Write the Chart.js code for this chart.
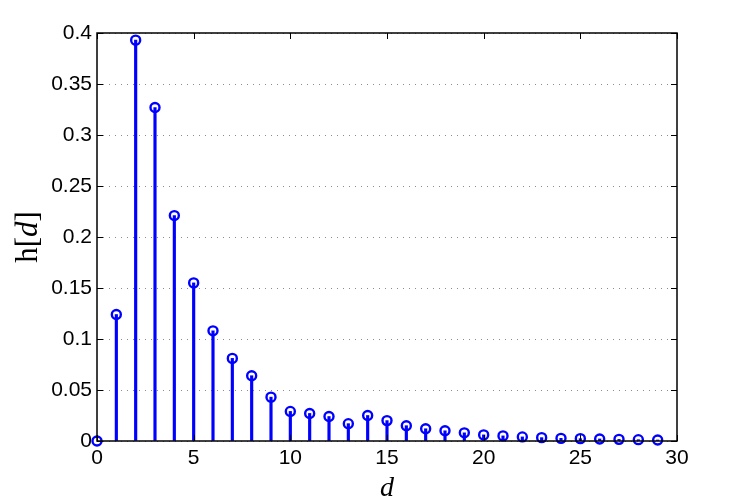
<!DOCTYPE html>
<html>
<head>
<meta charset="utf-8">
<script src="https://cdn.jsdelivr.net/npm/chart.js@4"></script>
<style>
  html, body { margin: 0; padding: 0; background: #fff; }
  #wrap { width: 747px; height: 501px; }
</style>
</head>
<body>
<div id="wrap"><canvas id="stemChart"></canvas></div>
<script>
const lags = [0, 1, 2, 3, 4, 5, 6, 7, 8, 9, 10, 11, 12, 13, 14, 15, 16, 17, 18, 19,
  20, 21, 22, 23, 24, 25, 26, 27, 28, 29];
const hValues = [0, 0.124, 0.393, 0.327, 0.221, 0.155, 0.108, 0.081, 0.064, 0.043,
  0.029, 0.027, 0.024, 0.017, 0.025, 0.020, 0.015, 0.012, 0.010, 0.008,
  0.006, 0.005, 0.004, 0.0033, 0.0026, 0.0023, 0.002, 0.0016, 0.0013, 0.001];
const xTicks = [0, 5, 10, 15, 20, 25, 30];
const yTicks = [0, 0.05, 0.1, 0.15, 0.2, 0.25, 0.3, 0.35, 0.4];

const points = lags.map((d, i) => ({ x: d, y: hValues[i] }));

// box, inward tick marks and the two axis labels (mixed upright/italic)
const frame = {
  id: 'frame',
  afterDraw(chart) {
    const ctx = chart.ctx;
    const a = chart.chartArea;
    const xs = chart.scales.x, ys = chart.scales.y;
    ctx.save();
    ctx.strokeStyle = '#000';
    ctx.lineWidth = 1;
    ctx.beginPath();
    yTicks.forEach(v => {
      const y = Math.round(ys.getPixelForValue(v)) + 0.5;
      ctx.moveTo(a.left, y); ctx.lineTo(a.left + 6, y);
      ctx.moveTo(a.right, y); ctx.lineTo(a.right - 6, y);
    });
    xTicks.forEach(v => {
      const x = Math.round(xs.getPixelForValue(v)) + 0.5;
      ctx.moveTo(x, a.bottom); ctx.lineTo(x, a.bottom - 6);
      ctx.moveTo(x, a.top); ctx.lineTo(x, a.top + 6);
    });
    ctx.stroke();
    ctx.lineWidth = 1.5;
    ctx.strokeRect(a.left, a.top, a.right - a.left, a.bottom - a.top);

    // x label: italic d
    ctx.fillStyle = '#000';
    ctx.textAlign = 'center';
    ctx.textBaseline = 'alphabetic';
    ctx.font = 'italic 28px "Liberation Serif"';
    ctx.fillText('d', (a.left + a.right) / 2, 496);

    // y label: h[d], rotated
    ctx.translate(37, (a.top + a.bottom) / 2);
    ctx.rotate(-Math.PI / 2);
    const parts = [['h[', '31px "Liberation Serif"'], ['d', 'italic 31px "Liberation Serif"'], [']', '31px "Liberation Serif"']];
    let total = 0;
    parts.forEach(p => { ctx.font = p[1]; total += ctx.measureText(p[0]).width; });
    let cx = -total / 2;
    ctx.textAlign = 'left';
    parts.forEach(p => {
      ctx.font = p[1];
      ctx.fillText(p[0], cx, 0);
      cx += ctx.measureText(p[0]).width;
    });
    ctx.restore();
  }
};

new Chart(document.getElementById('stemChart'), {
  data: {
    datasets: [{
      type: 'bar',
      data: points,
      backgroundColor: '#0000ff',
      barThickness: 2.5,
      order: 2
    }, {
      type: 'line',
      data: points,
      showLine: false,
      clip: false,
      pointStyle: 'circle',
      pointRadius: 4.5,
      pointBorderWidth: 2.4,
      pointBorderColor: '#0000ff',
      pointBackgroundColor: 'rgba(255,255,255,0)',
      order: 1
    }]
  },
  options: {
    responsive: true,
    maintainAspectRatio: false,
    animation: false,
    layout: { padding: { top: 33, right: 70, left: 0, bottom: 0 } },
    plugins: {
      legend: { display: false },
      tooltip: { enabled: false }
    },
    scales: {
      x: {
        type: 'linear',
        min: 0,
        max: 30,
        offset: false,
        afterBuildTicks: s => { s.ticks = xTicks.map(v => ({ value: v })); },
        afterFit: s => { s.height = 60; },
        grid: { display: false, drawTicks: false },
        border: { display: false },
        ticks: {
          color: '#000',
          padding: 5,
          maxRotation: 0,
          font: { family: '"Liberation Sans"', size: 21 }
        }
      },
      y: {
        type: 'linear',
        min: 0,
        max: 0.4,
        afterBuildTicks: s => { s.ticks = yTicks.map(v => ({ value: v })); },
        afterFit: s => { s.width = 97; },
        grid: {
          drawTicks: false,
          color: '#8c8c8c',
          lineWidth: 1
        },
        border: { display: false, dash: [1, 5] },
        ticks: {
          color: '#000',
          padding: 5,
          font: { family: '"Liberation Sans"', size: 21 },
          callback: v => String(+v.toFixed(2))
        }
      }
    }
  },
  plugins: [frame]
});
</script>
</body>
</html>
